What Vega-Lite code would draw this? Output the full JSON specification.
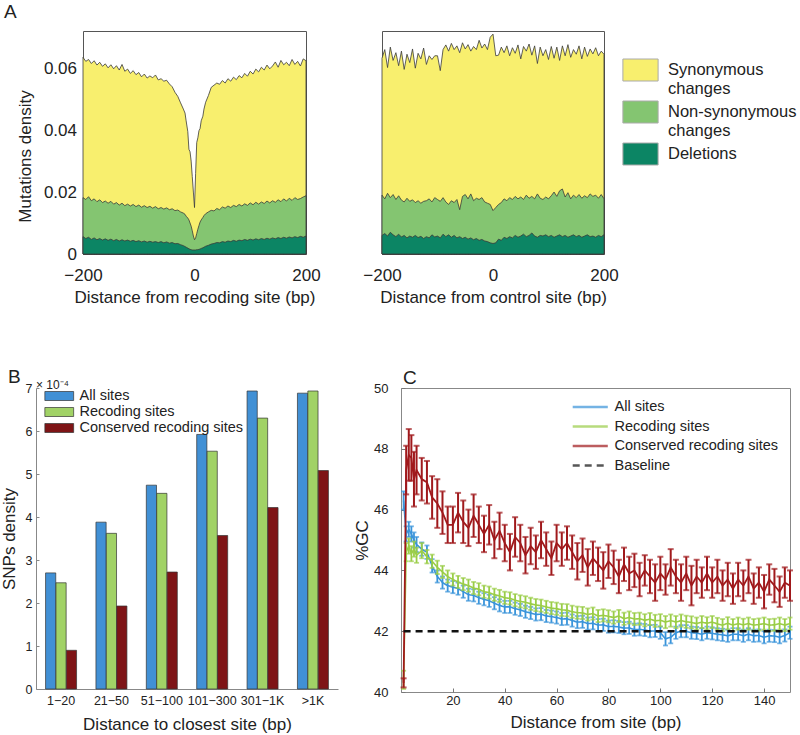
{
"$schema": "https://vega.github.io/schema/vega-lite/v6.json",
"background": "white",
"padding": {"left": 0, "top": 3, "right": 0, "bottom": 0},
"spacing": 62,
"resolve": {"scale": {"color": "independent", "strokeDash": "independent"}, "legend": {"color": "independent", "strokeDash": "independent"}},
"config": {
  "font": "Liberation Sans",
  "view": {"stroke": null},
  "axis": {"labelFont": "Liberation Sans", "titleFont": "Liberation Sans", "labelColor": "#222", "titleColor": "#222", "titleFontWeight": "normal", "grid": false, "domain": false, "tickColor": "#555", "labelOverlap": false, "labelFlush": false},
  "title": {"font": "Liberation Sans", "fontWeight": "normal", "anchor": "start", "frame": "group", "color": "#222", "baseline": "alphabetic"},
  "legend": {"labelFont": "Liberation Sans", "labelColor": "#222", "padding": 0}
},
"datasets": {
  "rec": [
{"x":-200,"s":0.0635,"n":0.0182,"d":0.0056},{"x":-195,"s":0.0622,"n":0.0176,"d":0.0050},{"x":-190,"s":0.0628,"n":0.0185,"d":0.0054},{"x":-185,"s":0.0615,"n":0.0172,"d":0.0047},{"x":-180,"s":0.0624,"n":0.0178,"d":0.0052},{"x":-175,"s":0.0610,"n":0.0169,"d":0.0046},{"x":-170,"s":0.0619,"n":0.0175,"d":0.0050},{"x":-165,"s":0.0606,"n":0.0166,"d":0.0045},{"x":-160,"s":0.0614,"n":0.0171,"d":0.0049},{"x":-155,"s":0.0601,"n":0.0164,"d":0.0044},{"x":-150,"s":0.0611,"n":0.0170,"d":0.0048},{"x":-145,"s":0.0598,"n":0.0161,"d":0.0043},{"x":-140,"s":0.0608,"n":0.0166,"d":0.0047},{"x":-135,"s":0.0594,"n":0.0158,"d":0.0042},{"x":-130,"s":0.0612,"n":0.0164,"d":0.0046},{"x":-125,"s":0.0590,"n":0.0156,"d":0.0042},{"x":-120,"s":0.0597,"n":0.0161,"d":0.0045},{"x":-115,"s":0.0583,"n":0.0155,"d":0.0041},{"x":-110,"s":0.0592,"n":0.0160,"d":0.0044},{"x":-105,"s":0.0579,"n":0.0153,"d":0.0040},{"x":-100,"s":0.0586,"n":0.0158,"d":0.0043},{"x":-95,"s":0.0572,"n":0.0151,"d":0.0039},{"x":-90,"s":0.0581,"n":0.0156,"d":0.0042},{"x":-85,"s":0.0568,"n":0.0150,"d":0.0038},{"x":-80,"s":0.0575,"n":0.0154,"d":0.0041},{"x":-75,"s":0.0569,"n":0.0148,"d":0.0038},{"x":-70,"s":0.0578,"n":0.0153,"d":0.0040},{"x":-65,"s":0.0562,"n":0.0146,"d":0.0037},{"x":-60,"s":0.0566,"n":0.0150,"d":0.0040},{"x":-55,"s":0.0558,"n":0.0145,"d":0.0036},{"x":-50,"s":0.0561,"n":0.0149,"d":0.0039},{"x":-45,"s":0.0549,"n":0.0143,"d":0.0035},{"x":-40,"s":0.0540,"n":0.0146,"d":0.0037},{"x":-35,"s":0.0522,"n":0.0140,"d":0.0033},{"x":-30,"s":0.0509,"n":0.0142,"d":0.0034},{"x":-25,"s":0.0488,"n":0.0136,"d":0.0030},{"x":-20,"s":0.0468,"n":0.0132,"d":0.0027},{"x":-17,"s":0.0455,"n":0.0128,"d":0.0024},{"x":-15,"s":0.0430,"n":0.0122,"d":0.0022},{"x":-12,"s":0.0395,"n":0.0116,"d":0.0019},{"x":-10,"s":0.0338,"n":0.0110,"d":0.0017},{"x":-8,"s":0.0330,"n":0.0100,"d":0.0015},{"x":-6,"s":0.0300,"n":0.0090,"d":0.0014},{"x":-4,"s":0.0250,"n":0.0075,"d":0.0013},{"x":-2,"s":0.0200,"n":0.0058,"d":0.0013},{"x":0,"s":0.0150,"n":0.0046,"d":0.0013},{"x":2,"s":0.0260,"n":0.0052,"d":0.0013},{"x":4,"s":0.0360,"n":0.0066,"d":0.0014},{"x":6,"s":0.0375,"n":0.0080,"d":0.0014},{"x":8,"s":0.0398,"n":0.0092,"d":0.0015},{"x":10,"s":0.0405,"n":0.0103,"d":0.0016},{"x":12,"s":0.0430,"n":0.0110,"d":0.0018},{"x":15,"s":0.0445,"n":0.0118,"d":0.0020},{"x":17,"s":0.0468,"n":0.0124,"d":0.0022},{"x":20,"s":0.0490,"n":0.0130,"d":0.0025},{"x":25,"s":0.0512,"n":0.0136,"d":0.0028},{"x":30,"s":0.0538,"n":0.0141,"d":0.0032},{"x":35,"s":0.0545,"n":0.0139,"d":0.0034},{"x":40,"s":0.0552,"n":0.0147,"d":0.0037},{"x":45,"s":0.0548,"n":0.0143,"d":0.0036},{"x":50,"s":0.0560,"n":0.0152,"d":0.0040},{"x":55,"s":0.0552,"n":0.0148,"d":0.0038},{"x":60,"s":0.0566,"n":0.0155,"d":0.0042},{"x":65,"s":0.0558,"n":0.0150,"d":0.0040},{"x":70,"s":0.0571,"n":0.0157,"d":0.0044},{"x":75,"s":0.0563,"n":0.0153,"d":0.0041},{"x":80,"s":0.0576,"n":0.0160,"d":0.0045},{"x":85,"s":0.0569,"n":0.0155,"d":0.0043},{"x":90,"s":0.0583,"n":0.0162,"d":0.0047},{"x":95,"s":0.0574,"n":0.0157,"d":0.0044},{"x":100,"s":0.0590,"n":0.0165,"d":0.0048},{"x":105,"s":0.0581,"n":0.0159,"d":0.0045},{"x":110,"s":0.0597,"n":0.0167,"d":0.0049},{"x":115,"s":0.0588,"n":0.0161,"d":0.0046},{"x":120,"s":0.0603,"n":0.0168,"d":0.0050},{"x":125,"s":0.0594,"n":0.0163,"d":0.0047},{"x":130,"s":0.0610,"n":0.0171,"d":0.0051},{"x":135,"s":0.0598,"n":0.0165,"d":0.0048},{"x":140,"s":0.0607,"n":0.0172,"d":0.0052},{"x":145,"s":0.0620,"n":0.0167,"d":0.0049},{"x":150,"s":0.0603,"n":0.0175,"d":0.0053},{"x":155,"s":0.0625,"n":0.0169,"d":0.0050},{"x":160,"s":0.0611,"n":0.0178,"d":0.0054},{"x":165,"s":0.0619,"n":0.0171,"d":0.0051},{"x":170,"s":0.0608,"n":0.0180,"d":0.0055},{"x":175,"s":0.0628,"n":0.0173,"d":0.0052},{"x":180,"s":0.0612,"n":0.0182,"d":0.0056},{"x":185,"s":0.0622,"n":0.0176,"d":0.0053},{"x":190,"s":0.0607,"n":0.0179,"d":0.0057},{"x":195,"s":0.0630,"n":0.0184,"d":0.0054},{"x":200,"s":0.0624,"n":0.0188,"d":0.0058}
  ],
  "ctl": [
{"x":-200,"s":0.0632,"n":0.0190,"d":0.0060},{"x":-195,"s":0.0660,"n":0.0178,"d":0.0066},{"x":-190,"s":0.0602,"n":0.0196,"d":0.0058},{"x":-185,"s":0.0668,"n":0.0182,"d":0.0070},{"x":-180,"s":0.0625,"n":0.0192,"d":0.0062},{"x":-175,"s":0.0650,"n":0.0176,"d":0.0056},{"x":-170,"s":0.0608,"n":0.0188,"d":0.0064},{"x":-165,"s":0.0655,"n":0.0174,"d":0.0055},{"x":-160,"s":0.0596,"n":0.0168,"d":0.0060},{"x":-155,"s":0.0645,"n":0.0180,"d":0.0052},{"x":-150,"s":0.0618,"n":0.0170,"d":0.0058},{"x":-145,"s":0.0662,"n":0.0175,"d":0.0054},{"x":-140,"s":0.0600,"n":0.0166,"d":0.0060},{"x":-135,"s":0.0648,"n":0.0172,"d":0.0053},{"x":-130,"s":0.0630,"n":0.0164,"d":0.0057},{"x":-125,"s":0.0665,"n":0.0170,"d":0.0050},{"x":-120,"s":0.0612,"n":0.0172,"d":0.0056},{"x":-115,"s":0.0640,"n":0.0178,"d":0.0052},{"x":-110,"s":0.0628,"n":0.0168,"d":0.0062},{"x":-105,"s":0.0640,"n":0.0182,"d":0.0055},{"x":-100,"s":0.0640,"n":0.0176,"d":0.0058},{"x":-95,"s":0.0592,"n":0.0170,"d":0.0052},{"x":-90,"s":0.0660,"n":0.0182,"d":0.0064},{"x":-85,"s":0.0675,"n":0.0168,"d":0.0056},{"x":-80,"s":0.0655,"n":0.0160,"d":0.0062},{"x":-75,"s":0.0680,"n":0.0172,"d":0.0054},{"x":-70,"s":0.0660,"n":0.0166,"d":0.0060},{"x":-65,"s":0.0672,"n":0.0176,"d":0.0052},{"x":-60,"s":0.0650,"n":0.0143,"d":0.0056},{"x":-55,"s":0.0682,"n":0.0186,"d":0.0050},{"x":-50,"s":0.0662,"n":0.0192,"d":0.0054},{"x":-45,"s":0.0676,"n":0.0178,"d":0.0048},{"x":-40,"s":0.0655,"n":0.0194,"d":0.0052},{"x":-35,"s":0.0670,"n":0.0172,"d":0.0046},{"x":-30,"s":0.0660,"n":0.0180,"d":0.0050},{"x":-25,"s":0.0690,"n":0.0176,"d":0.0044},{"x":-20,"s":0.0665,"n":0.0182,"d":0.0047},{"x":-15,"s":0.0678,"n":0.0168,"d":0.0042},{"x":-10,"s":0.0660,"n":0.0164,"d":0.0040},{"x":-5,"s":0.0700,"n":0.0160,"d":0.0036},{"x":0,"s":0.0710,"n":0.0140,"d":0.0034},{"x":5,"s":0.0640,"n":0.0150,"d":0.0036},{"x":10,"s":0.0642,"n":0.0160,"d":0.0048},{"x":15,"s":0.0668,"n":0.0166,"d":0.0044},{"x":20,"s":0.0650,"n":0.0178,"d":0.0054},{"x":25,"s":0.0672,"n":0.0172,"d":0.0050},{"x":30,"s":0.0640,"n":0.0182,"d":0.0056},{"x":35,"s":0.0666,"n":0.0176,"d":0.0052},{"x":40,"s":0.0648,"n":0.0186,"d":0.0060},{"x":45,"s":0.0675,"n":0.0178,"d":0.0054},{"x":50,"s":0.0630,"n":0.0184,"d":0.0058},{"x":55,"s":0.0670,"n":0.0176,"d":0.0064},{"x":60,"s":0.0655,"n":0.0190,"d":0.0056},{"x":65,"s":0.0678,"n":0.0180,"d":0.0060},{"x":70,"s":0.0642,"n":0.0186,"d":0.0068},{"x":75,"s":0.0672,"n":0.0178,"d":0.0058},{"x":80,"s":0.0615,"n":0.0194,"d":0.0054},{"x":85,"s":0.0668,"n":0.0180,"d":0.0060},{"x":90,"s":0.0640,"n":0.0176,"d":0.0058},{"x":95,"s":0.0660,"n":0.0184,"d":0.0062},{"x":100,"s":0.0628,"n":0.0178,"d":0.0056},{"x":105,"s":0.0670,"n":0.0188,"d":0.0060},{"x":110,"s":0.0632,"n":0.0200,"d":0.0054},{"x":115,"s":0.0668,"n":0.0186,"d":0.0058},{"x":120,"s":0.0625,"n":0.0204,"d":0.0062},{"x":125,"s":0.0672,"n":0.0210,"d":0.0056},{"x":130,"s":0.0640,"n":0.0184,"d":0.0060},{"x":135,"s":0.0676,"n":0.0198,"d":0.0054},{"x":140,"s":0.0635,"n":0.0178,"d":0.0058},{"x":145,"s":0.0660,"n":0.0190,"d":0.0062},{"x":150,"s":0.0645,"n":0.0182,"d":0.0056},{"x":155,"s":0.0672,"n":0.0192,"d":0.0060},{"x":160,"s":0.0630,"n":0.0180,"d":0.0054},{"x":165,"s":0.0668,"n":0.0188,"d":0.0058},{"x":170,"s":0.0638,"n":0.0182,"d":0.0062},{"x":175,"s":0.0662,"n":0.0194,"d":0.0056},{"x":180,"s":0.0646,"n":0.0186,"d":0.0058},{"x":185,"s":0.0666,"n":0.0190,"d":0.0054},{"x":190,"s":0.0640,"n":0.0180,"d":0.0060},{"x":195,"s":0.0655,"n":0.0192,"d":0.0056},{"x":200,"s":0.0645,"n":0.0178,"d":0.0062}
  ],
  "snp": [
{"g":"1−20","s":"All sites","v":2.70},{"g":"1−20","s":"Recoding sites","v":2.47},{"g":"1−20","s":"Conserved recoding sites","v":0.90},
{"g":"21−50","s":"All sites","v":3.88},{"g":"21−50","s":"Recoding sites","v":3.62},{"g":"21−50","s":"Conserved recoding sites","v":1.93},
{"g":"51−100","s":"All sites","v":4.74},{"g":"51−100","s":"Recoding sites","v":4.55},{"g":"51−100","s":"Conserved recoding sites","v":2.72},
{"g":"101−300","s":"All sites","v":5.92},{"g":"101−300","s":"Recoding sites","v":5.53},{"g":"101−300","s":"Conserved recoding sites","v":3.57},
{"g":"301−1K","s":"All sites","v":6.93},{"g":"301−1K","s":"Recoding sites","v":6.30},{"g":"301−1K","s":"Conserved recoding sites","v":4.22},
{"g":">1K","s":"All sites","v":6.88},{"g":">1K","s":"Recoding sites","v":6.93},{"g":">1K","s":"Conserved recoding sites","v":5.08}
  ],
  "gc": [
{"x":1,"a":46.3,"ae":0.3,"r":40.4,"re":0.3,"c":40.3,"ce":0.15},
{"x":2,"a":45.2,"ae":0.25,"r":44.6,"re":0.3,"c":47.3,"ce":0.8},
{"x":3,"a":45.35,"ae":0.25,"r":44.8,"re":0.25,"c":47.8,"ce":0.85},
{"x":4,"a":45.2,"ae":0.25,"r":44.55,"re":0.25,"c":47.7,"ce":0.75},
{"x":5,"a":45.0,"ae":0.25,"r":44.7,"re":0.25,"c":47.0,"ce":0.9},
{"x":6,"a":44.85,"ae":0.25,"r":44.5,"re":0.25,"c":47.3,"ce":0.8},
{"x":8,"a":44.7,"ae":0.22,"r":44.65,"re":0.25,"c":47.0,"ce":0.7},
{"x":10,"a":44.6,"ae":0.22,"r":44.45,"re":0.22,"c":46.9,"ce":0.7},
{"x":12,"a":44.15,"ae":0.22,"r":44.3,"re":0.22,"c":46.4,"ce":0.7},
{"x":14,"a":43.8,"ae":0.2,"r":44.1,"re":0.22,"c":46.2,"ce":0.8},
{"x":16,"a":43.6,"ae":0.2,"r":43.95,"re":0.2,"c":45.9,"ce":0.7},
{"x":18,"a":43.5,"ae":0.2,"r":43.8,"re":0.2,"c":45.5,"ce":0.6},
{"x":20,"a":43.45,"ae":0.2,"r":43.7,"re":0.2,"c":45.5,"ce":0.6},
{"x":22,"a":43.4,"ae":0.2,"r":43.62,"re":0.2,"c":45.9,"ce":0.65},
{"x":24,"a":43.3,"ae":0.2,"r":43.55,"re":0.2,"c":45.6,"ce":0.7},
{"x":26,"a":43.2,"ae":0.2,"r":43.5,"re":0.2,"c":45.4,"ce":0.6},
{"x":28,"a":43.18,"ae":0.2,"r":43.42,"re":0.2,"c":45.8,"ce":0.7},
{"x":30,"a":43.1,"ae":0.2,"r":43.38,"re":0.2,"c":45.5,"ce":0.6},
{"x":32,"a":43.05,"ae":0.2,"r":43.3,"re":0.2,"c":45.2,"ce":0.6},
{"x":34,"a":43.0,"ae":0.2,"r":43.27,"re":0.2,"c":45.5,"ce":0.65},
{"x":36,"a":42.92,"ae":0.2,"r":43.2,"re":0.2,"c":45.0,"ce":0.6},
{"x":38,"a":42.85,"ae":0.2,"r":43.16,"re":0.2,"c":45.3,"ce":0.6},
{"x":40,"a":42.8,"ae":0.2,"r":43.1,"re":0.2,"c":44.9,"ce":0.6},
{"x":42,"a":42.8,"ae":0.2,"r":43.08,"re":0.2,"c":44.6,"ce":0.6},
{"x":44,"a":42.74,"ae":0.2,"r":43.02,"re":0.2,"c":45.1,"ce":0.65},
{"x":46,"a":42.7,"ae":0.2,"r":42.98,"re":0.2,"c":44.9,"ce":0.6},
{"x":48,"a":42.64,"ae":0.2,"r":42.95,"re":0.2,"c":44.5,"ce":0.6},
{"x":50,"a":42.6,"ae":0.2,"r":42.9,"re":0.2,"c":44.8,"ce":0.6},
{"x":52,"a":42.55,"ae":0.2,"r":42.86,"re":0.2,"c":44.6,"ce":0.55},
{"x":54,"a":42.56,"ae":0.2,"r":42.84,"re":0.2,"c":45.0,"ce":0.6},
{"x":56,"a":42.5,"ae":0.2,"r":42.8,"re":0.2,"c":44.7,"ce":0.55},
{"x":58,"a":42.48,"ae":0.2,"r":42.76,"re":0.2,"c":44.4,"ce":0.55},
{"x":60,"a":42.45,"ae":0.2,"r":42.74,"re":0.2,"c":44.9,"ce":0.6},
{"x":62,"a":42.4,"ae":0.2,"r":42.7,"re":0.2,"c":44.7,"ce":0.55},
{"x":64,"a":42.41,"ae":0.2,"r":42.69,"re":0.2,"c":44.9,"ce":0.55},
{"x":66,"a":42.35,"ae":0.2,"r":42.64,"re":0.2,"c":44.6,"ce":0.55},
{"x":68,"a":42.3,"ae":0.2,"r":42.61,"re":0.2,"c":44.3,"ce":0.6},
{"x":70,"a":42.31,"ae":0.2,"r":42.6,"re":0.2,"c":44.5,"ce":0.55},
{"x":72,"a":42.25,"ae":0.2,"r":42.55,"re":0.2,"c":44.1,"ce":0.6},
{"x":74,"a":42.26,"ae":0.2,"r":42.58,"re":0.2,"c":44.4,"ce":0.55},
{"x":76,"a":42.2,"ae":0.2,"r":42.5,"re":0.2,"c":44.2,"ce":0.55},
{"x":78,"a":42.21,"ae":0.2,"r":42.52,"re":0.2,"c":44.0,"ce":0.6},
{"x":80,"a":42.15,"ae":0.2,"r":42.49,"re":0.2,"c":44.3,"ce":0.55},
{"x":82,"a":42.16,"ae":0.2,"r":42.45,"re":0.2,"c":44.1,"ce":0.55},
{"x":84,"a":42.14,"ae":0.2,"r":42.5,"re":0.2,"c":43.8,"ce":0.55},
{"x":86,"a":42.1,"ae":0.2,"r":42.41,"re":0.2,"c":44.2,"ce":0.55},
{"x":88,"a":42.11,"ae":0.2,"r":42.45,"re":0.2,"c":43.9,"ce":0.55},
{"x":90,"a":42.05,"ae":0.2,"r":42.4,"re":0.2,"c":44.0,"ce":0.55},
{"x":92,"a":42.06,"ae":0.2,"r":42.41,"re":0.2,"c":43.7,"ce":0.55},
{"x":94,"a":42.04,"ae":0.2,"r":42.36,"re":0.2,"c":44.0,"ce":0.5},
{"x":96,"a":42.0,"ae":0.2,"r":42.4,"re":0.2,"c":43.8,"ce":0.55},
{"x":98,"a":42.01,"ae":0.2,"r":42.34,"re":0.2,"c":43.6,"ce":0.6},
{"x":100,"a":41.95,"ae":0.2,"r":42.36,"re":0.2,"c":43.9,"ce":0.55},
{"x":102,"a":41.75,"ae":0.22,"r":42.3,"re":0.2,"c":43.7,"ce":0.5},
{"x":104,"a":41.8,"ae":0.2,"r":42.35,"re":0.2,"c":44.1,"ce":0.6},
{"x":106,"a":41.95,"ae":0.2,"r":42.3,"re":0.2,"c":43.8,"ce":0.55},
{"x":108,"a":42.0,"ae":0.2,"r":42.35,"re":0.2,"c":43.6,"ce":0.6},
{"x":110,"a":42.0,"ae":0.2,"r":42.31,"re":0.2,"c":43.9,"ce":0.55},
{"x":112,"a":41.95,"ae":0.2,"r":42.29,"re":0.2,"c":43.5,"ce":0.65},
{"x":114,"a":41.94,"ae":0.2,"r":42.25,"re":0.2,"c":43.8,"ce":0.55},
{"x":116,"a":41.9,"ae":0.2,"r":42.3,"re":0.2,"c":43.6,"ce":0.5},
{"x":118,"a":41.95,"ae":0.2,"r":42.26,"re":0.2,"c":43.9,"ce":0.55},
{"x":120,"a":41.93,"ae":0.2,"r":42.3,"re":0.2,"c":43.6,"ce":0.5},
{"x":122,"a":41.9,"ae":0.2,"r":42.24,"re":0.2,"c":43.8,"ce":0.55},
{"x":124,"a":41.88,"ae":0.2,"r":42.2,"re":0.2,"c":43.5,"ce":0.5},
{"x":126,"a":41.85,"ae":0.2,"r":42.26,"re":0.2,"c":43.7,"ce":0.55},
{"x":128,"a":41.9,"ae":0.2,"r":42.2,"re":0.2,"c":43.4,"ce":0.5},
{"x":130,"a":41.9,"ae":0.2,"r":42.25,"re":0.2,"c":43.7,"ce":0.55},
{"x":132,"a":41.85,"ae":0.2,"r":42.21,"re":0.2,"c":43.5,"ce":0.5},
{"x":134,"a":41.9,"ae":0.2,"r":42.25,"re":0.2,"c":43.8,"ce":0.55},
{"x":136,"a":41.85,"ae":0.2,"r":42.2,"re":0.2,"c":43.4,"ce":0.5},
{"x":138,"a":41.86,"ae":0.2,"r":42.22,"re":0.2,"c":43.6,"ce":0.5},
{"x":140,"a":41.8,"ae":0.2,"r":42.25,"re":0.2,"c":43.3,"ce":0.55},
{"x":142,"a":41.85,"ae":0.2,"r":42.2,"re":0.2,"c":43.7,"ce":0.5},
{"x":144,"a":41.84,"ae":0.2,"r":42.21,"re":0.2,"c":43.5,"ce":0.55},
{"x":146,"a":41.8,"ae":0.2,"r":42.25,"re":0.2,"c":43.3,"ce":0.5},
{"x":148,"a":41.86,"ae":0.2,"r":42.2,"re":0.2,"c":43.6,"ce":0.5},
{"x":150,"a":41.95,"ae":0.2,"r":42.25,"re":0.2,"c":43.5,"ce":0.5}
  ],
  "base": [{"x":1,"b":42},{"x":150,"b":42}]
},
"vconcat": [
 {
  "bounds": "flush",
  "spacing": 0,
  "resolve": {"scale": {"color": "independent"}, "legend": {"color": "independent"}},
  "hconcat": [
  {
    "width": 83, "height": 223,
    "title": {"text": "A", "fontSize": 19, "offset": 9, "dx": 4},
    "data": {"values": [{}]},
    "mark": {"type": "point", "opacity": 0},
    "encoding": {}
  },
  {
    "width": 223, "height": 223,
    "view": {"stroke": "#555", "strokeWidth": 1},
    "data": {"name": "rec"},
    "encoding": {
      "x": {"field": "x", "type": "quantitative", "scale": {"domain": [-200, 200], "nice": false},
        "axis": {"values": [-200, 0, 200], "labelFontSize": 17, "tickSize": -4, "labelPadding": 17.5, "titleFontSize": 17, "titlePadding": 6, "title": "Distance from recoding site (bp)"}}
    },
    "layer": [
      {"mark": {"type": "area", "fill": "#F8EF6E", "stroke": "#3a3a3a", "strokeWidth": 0.8, "opacity": 1},
       "encoding": {"y": {"field": "s", "type": "quantitative", "title": "Mutations density", "scale": {"domain": [0, 0.072], "nice": false},
         "axis": {"values": [0, 0.02, 0.04, 0.06], "labelExpr": "datum.value == 0 ? '0' : format(datum.value, '.2f')", "labelFontSize": 17, "tickSize": -4, "labelPadding": 10.5, "titleFontSize": 17, "titlePadding": 9, "titleY": 125}}}},
      {"mark": {"type": "area", "fill": "#84C571", "stroke": "#3a3a3a", "strokeWidth": 0.8, "opacity": 1},
       "encoding": {"y": {"field": "n", "type": "quantitative", "title": "Mutations density"}}},
      {"mark": {"type": "area", "fill": "#0C8564", "stroke": "#3a3a3a", "strokeWidth": 0.8, "opacity": 1},
       "encoding": {"y": {"field": "d", "type": "quantitative", "title": "Mutations density"}}}
    ]
  },
  {
    "width": 76, "height": 223,
    "data": {"values": [{}]},
    "mark": {"type": "point", "opacity": 0},
    "encoding": {}
  },
  {
    "width": 222, "height": 223,
    "view": {"stroke": "#555", "strokeWidth": 1},
    "data": {"name": "ctl"},
    "encoding": {
      "x": {"field": "x", "type": "quantitative", "scale": {"domain": [-200, 200], "nice": false},
        "axis": {"values": [-200, 0, 200], "labelFontSize": 17, "tickSize": -4, "labelPadding": 17.5, "titleFontSize": 17, "titlePadding": 6, "title": "Distance from control site (bp)"}}
    },
    "layer": [
      {"mark": {"type": "area", "stroke": "#3a3a3a", "strokeWidth": 0.8, "opacity": 1},
       "encoding": {
         "y": {"field": "s", "type": "quantitative", "title": null, "scale": {"domain": [0, 0.072], "nice": false}, "axis": null},
         "color": {"datum": "Synonymous changes",
           "scale": {"domain": ["Synonymous changes", "Non-synonymous changes", "Deletions"], "range": ["#F8EF6E", "#84C571", "#0C8564"]},
           "legend": {"orient": "none", "legendX": 247, "legendY": 27.5, "title": null, "symbolType": "M-1.6,-1H1.6V1H-1.6Z", "symbolSize": 484, "symbolStrokeColor": "#aaa", "symbolStrokeWidth": 1, "labelFontSize": 16.5, "labelOffset": 16, "rowPadding": 1, "labelLimit": 300, "labelBaseline": "middle", "labelExpr": "datum.label == 'Deletions' ? datum.label : split(datum.label, ' ')"}}}},
      {"mark": {"type": "area", "stroke": "#3a3a3a", "strokeWidth": 0.8, "opacity": 1},
       "encoding": {"y": {"field": "n", "type": "quantitative", "title": null}, "color": {"datum": "Non-synonymous changes"}}},
      {"mark": {"type": "area", "stroke": "#3a3a3a", "strokeWidth": 0.8, "opacity": 1},
       "encoding": {"y": {"field": "d", "type": "quantitative", "title": null}, "color": {"datum": "Deletions"}}}
    ]
  }
  ]
 },
 {
  "bounds": "flush",
  "spacing": 0,
  "resolve": {"scale": {"color": "independent", "strokeDash": "independent"}, "legend": {"color": "independent", "strokeDash": "independent"}},
  "hconcat": [
  {
    "width": 36, "height": 301,
    "title": {"text": "B", "fontSize": 19, "offset": 1, "dx": 8},
    "data": {"values": [{}]},
    "mark": {"type": "point", "opacity": 0},
    "encoding": {}
  },
  {
    "width": 302, "height": 301,
    "title": {"text": "× 10⁻⁴", "fontSize": 12, "offset": -10, "dx": 0},
    "data": {"name": "snp"},
    "mark": {"type": "bar", "stroke": "#333", "strokeWidth": 0.7},
    "encoding": {
      "x": {"field": "g", "type": "nominal", "sort": null, "scale": {"paddingInner": 0.385, "paddingOuter": 0.19},
        "axis": {"labelFontSize": 12.5, "ticks": false, "tickSize": 0, "labelPadding": 5, "labelAngle": 0, "domain": true, "domainColor": "#888", "titleFontSize": 17, "titlePadding": 10, "title": "Distance to closest site (bp)"}},
      "xOffset": {"field": "s", "type": "nominal", "sort": ["All sites", "Recoding sites", "Conserved recoding sites"], "scale": {"paddingInner": 0.02}},
      "y": {"field": "v", "type": "quantitative", "scale": {"domain": [0, 7], "nice": false},
        "axis": {"values": [0, 1, 2, 3, 4, 5, 6, 7], "labelFontSize": 12.5, "tickSize": -3, "tickColor": "#888", "labelPadding": 7, "domain": true, "domainColor": "#888", "titleFontSize": 17, "titlePadding": 7, "title": "SNPs density"}},
      "color": {"field": "s", "type": "nominal",
        "scale": {"domain": ["All sites", "Recoding sites", "Conserved recoding sites"], "range": ["#4190D5", "#A1D266", "#7E1416"]},
        "legend": {"orient": "none", "legendX": 16, "legendY": 0.75, "title": null, "symbolType": "M-3.2,-1H3.2V1H-3.2Z", "symbolSize": 81, "symbolStrokeColor": "#333", "symbolStrokeWidth": 0.7, "labelFontSize": 14.5, "labelOffset": 13, "rowPadding": 1, "labelLimit": 300}}
    }
  },
  {
    "width": 63, "height": 301,
    "data": {"values": [{}]},
    "mark": {"type": "point", "opacity": 0},
    "encoding": {}
  },
  {
    "width": 389, "height": 304,
    "view": {"stroke": "#888", "strokeWidth": 1},
    "title": {"text": "C", "fontSize": 19, "offset": -6, "dx": 2},
    "data": {"name": "gc"},
    "encoding": {
      "x": {"field": "x", "type": "quantitative", "scale": {"domain": [0, 150], "nice": false},
        "axis": {"values": [20, 40, 60, 80, 100, 120, 140], "labelFontSize": 13, "tickSize": -4, "tickColor": "#777", "labelPadding": 6, "titleFontSize": 17, "titlePadding": 7, "title": "Distance from site (bp)"}}
    },
    "layer": [
      {"mark": {"type": "errorbar", "ticks": true, "size": 5, "thickness": 1.8},
       "encoding": {
         "y": {"field": "a", "type": "quantitative", "title": "%GC", "scale": {"domain": [40, 50], "nice": false},
           "axis": {"values": [40, 42, 44, 46, 48, 50], "labelFontSize": 13, "tickSize": -4, "tickColor": "#777", "labelPadding": 17, "titleFontSize": 17, "titlePadding": 2}},
         "yError": {"field": "ae"},
         "color": {"datum": "All sites",
           "scale": {"domain": ["All sites", "Recoding sites", "Conserved recoding sites", "Baseline"], "range": ["#3A94DA", "#9ACD47", "#A0191C", "#111111"]},
           "legend": {"orient": "none", "legendX": 182, "legendY": 11.75, "title": null, "symbolType": "M-4,0H4", "symbolSize": 77, "symbolStrokeWidth": 2.5, "labelFontSize": 14.5, "labelOffset": 17, "rowPadding": 4.5, "labelLimit": 300}}}},
      {"mark": {"type": "line", "strokeWidth": 1.6},
       "encoding": {
         "y": {"field": "a", "type": "quantitative", "title": "%GC"},
         "color": {"datum": "All sites"},
         "strokeDash": {"datum": "All sites",
           "scale": {"domain": ["All sites", "Recoding sites", "Conserved recoding sites", "Baseline"], "range": [[1, 0], [1, 0], [1, 0], [7, 5]]},
           "legend": {"orient": "none", "legendX": 182, "legendY": 11.75, "title": null, "symbolType": "M-4,0H4", "symbolSize": 77, "symbolStrokeWidth": 2.5, "labelFontSize": 14.5, "labelOffset": 17, "rowPadding": 4.5, "labelLimit": 300}}}},
      {"mark": {"type": "errorbar", "ticks": true, "size": 5, "thickness": 1.8},
       "encoding": {"y": {"field": "r", "type": "quantitative", "title": "%GC"}, "yError": {"field": "re"}, "color": {"datum": "Recoding sites"}}},
      {"mark": {"type": "line", "strokeWidth": 1.6},
       "encoding": {"y": {"field": "r", "type": "quantitative", "title": "%GC"}, "color": {"datum": "Recoding sites"}, "strokeDash": {"datum": "Recoding sites"}}},
      {"mark": {"type": "errorbar", "ticks": true, "size": 6, "thickness": 2},
       "encoding": {"y": {"field": "c", "type": "quantitative", "title": "%GC"}, "yError": {"field": "ce"}, "color": {"datum": "Conserved recoding sites"}}},
      {"mark": {"type": "line", "strokeWidth": 1.8},
       "encoding": {"y": {"field": "c", "type": "quantitative", "title": "%GC"}, "color": {"datum": "Conserved recoding sites"}, "strokeDash": {"datum": "Conserved recoding sites"}}},
      {"data": {"name": "base"},
       "mark": {"type": "line", "strokeWidth": 2.5},
       "encoding": {"y": {"field": "b", "type": "quantitative", "title": "%GC"}, "color": {"datum": "Baseline"}, "strokeDash": {"datum": "Baseline"}}}
    ]
  }
  ]
 }
]
}
